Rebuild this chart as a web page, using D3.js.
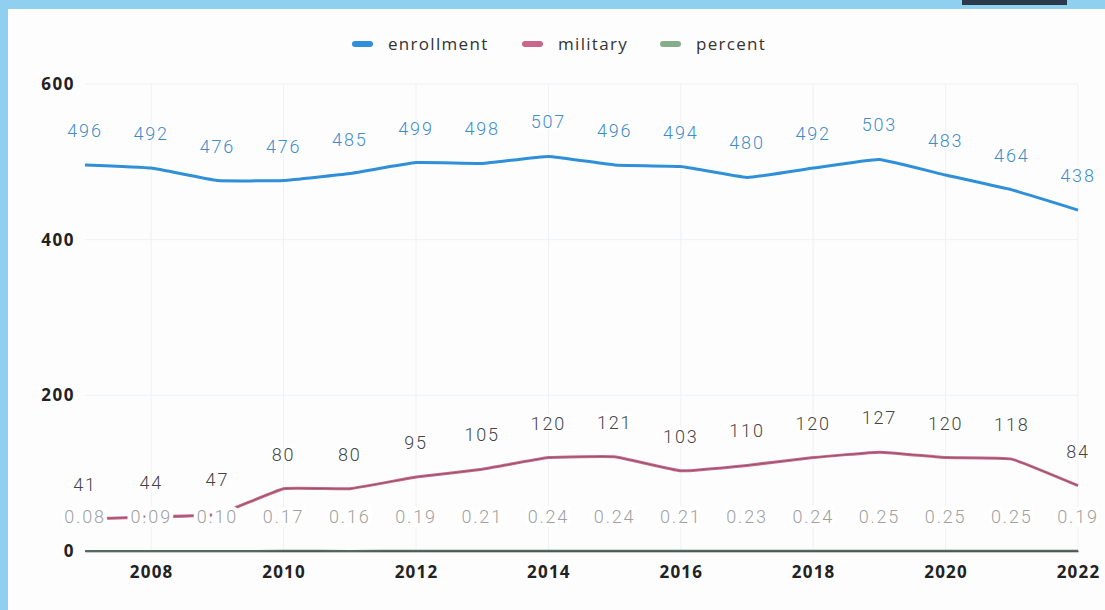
<!DOCTYPE html>
<html><head><meta charset="utf-8">
<script src="https://cdn.jsdelivr.net/npm/d3@7"></script>
<style>body{margin:0;background:#fff;}svg{display:block;}</style>
</head><body>
<svg id="c" width="1105" height="610"></svg>
<script>
const years = [2007,2008,2009,2010,2011,2012,2013,2014,2015,2016,2017,2018,2019,2020,2021,2022];
const enrollment = [496,492,476,476,485,499,498,507,496,494,480,492,503,483,464,438];
const military = [41,44,47,80,80,95,105,120,121,103,110,120,127,120,118,84];
const percent = [0.08,0.09,0.10,0.17,0.16,0.19,0.21,0.24,0.24,0.21,0.23,0.24,0.25,0.25,0.25,0.19];
const xTicks = [2008,2010,2012,2014,2016,2018,2020,2022];
const yTicks = [0,200,400,600];
const seriesNames = ["enrollment","military","percent"];
const seriesColors = ["#2f8fd8","#c8678a","#86ad8a"];

const svg = d3.select("#c");
svg.append("rect").attr("x",0).attr("y",0).attr("width",1105).attr("height",610).attr("fill","#fdfdfd");
svg.append("rect").attr("x",0).attr("y",0).attr("width",1105).attr("height",9).attr("fill","#8fcff0");
svg.append("rect").attr("x",0).attr("y",0).attr("width",8).attr("height",610).attr("fill","#8fcff0");
svg.append("rect").attr("x",962).attr("y",0).attr("width",105).attr("height",5).attr("fill","#2a3a4a");

const x = d3.scaleLinear().domain([2007,2022]).range([85,1078]);
const y = d3.scaleLinear().domain([0,600]).range([551,84]);
const font = "'Open Sans', 'Noto Sans', sans-serif";
const lightFont = "Roboto, 'Open Sans', sans-serif";

svg.append("g").selectAll("line").data(xTicks).join("line")
  .attr("x1",d=>x(d)).attr("x2",d=>x(d)).attr("y1",y(600)).attr("y2",y(0))
  .attr("stroke","#eef2f5").attr("stroke-width",1);
svg.append("g").selectAll("line").data(yTicks.filter(d=>d>0)).join("line")
  .attr("x1",x(2007)).attr("x2",x(2022)).attr("y1",d=>y(d)).attr("y2",d=>y(d))
  .attr("stroke","#eef2f5").attr("stroke-width",1);

const xAxis = svg.append("g").attr("transform",`translate(0,${y(0)})`)
  .call(d3.axisBottom(x).tickValues(xTicks).tickFormat(d3.format("d")).tickSize(0).tickPadding(15));
xAxis.select(".domain").attr("stroke","#333").attr("stroke-width",1.5);
xAxis.selectAll("text").attr("font-family",font).attr("font-size",17).attr("font-weight","bold")
  .attr("letter-spacing",1.2).attr("fill","#222");

const yAxis = svg.append("g").attr("transform",`translate(${x(2007)},0)`)
  .call(d3.axisLeft(y).tickValues(yTicks).tickSize(0).tickPadding(10));
yAxis.select(".domain").remove();
yAxis.selectAll("text").attr("font-family",font).attr("font-size",17).attr("font-weight","bold")
  .attr("letter-spacing",1.5).attr("fill","#222");

const pts = (arr)=>arr.map((v,i)=>[years[i],v]);
const line = d3.line().x(d=>x(d[0])).y(d=>y(d[1])).curve(d3.curveCardinal.tension(0.7));

svg.append("path").attr("d",line(pts(percent))).attr("fill","none")
  .attr("stroke","#556b60").attr("stroke-width",2);
svg.append("path").attr("d",line(pts(military))).attr("fill","none")
  .attr("stroke",seriesColors[1]).attr("stroke-width",3);
svg.append("path").attr("d",line(pts(military))).attr("fill","none")
  .attr("stroke","#6a4a55").attr("stroke-width",1).attr("opacity",0.6);
svg.append("path").attr("d",line(pts(enrollment))).attr("fill","none")
  .attr("stroke",seriesColors[0]).attr("stroke-width",3);

function labels(arr, color, fmt, halo){
  svg.append("g").selectAll("text").data(pts(arr)).join("text")
    .attr("x",d=>x(d[0])).attr("y",d=>y(d[1]) - 28)
    .attr("text-anchor","middle")
    .attr("font-family",lightFont).attr("font-weight",300).attr("font-size",18)
    .attr("letter-spacing",1.8)
    .attr("fill",color)
    .attr("stroke","#fff").attr("stroke-width",halo).attr("paint-order","stroke")
    .text(d=>fmt(d[1]));
}
labels(enrollment,"#3f8ccc",d3.format("d"),4);
labels(military,"#444",d3.format("d"),4);
labels(percent,"#a0a0a0",d3.format(".2f"),8);

const legendX = [352,522,660];
const lg = svg.append("g");
seriesNames.forEach((n,i)=>{
  lg.append("rect").attr("x",legendX[i]).attr("y",41).attr("width",21).attr("height",6).attr("rx",3)
    .attr("fill",seriesColors[i]);
  lg.append("text").attr("x",legendX[i]+36).attr("y",50).attr("font-family",font).attr("font-size",17)
    .attr("letter-spacing",1.3).attr("fill","#333").text(n);
});
</script>
</body></html>
